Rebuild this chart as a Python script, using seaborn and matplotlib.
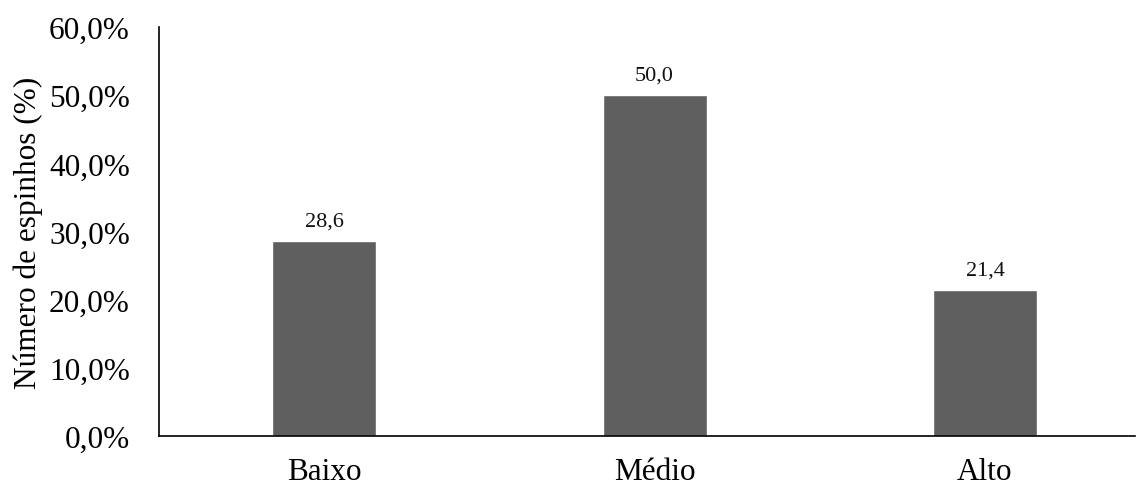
import matplotlib
matplotlib.use("Agg")
import matplotlib.pyplot as plt
import seaborn as sns
import pandas as pd
from matplotlib.ticker import FuncFormatter

categories = ["Baixo", "Médio", "Alto"]
values = [28.6, 50.0, 21.4]
labels = ["28,6", "50,0", "21,4"]

sns.set_theme(style="white")
plt.rcParams['font.family'] = ['Liberation Serif', 'DejaVu Serif']

df = pd.DataFrame({"cat": categories, "val": values})
fig = plt.figure(figsize=(11.39, 4.89), dpi=100)
ax = fig.add_axes([159 / 1139, 52 / 489, 976 / 1139, 409 / 489])
sns.barplot(data=df, x="cat", y="val", color="#5f5f5f", saturation=1, width=0.315, ax=ax)
for p, lab in zip(ax.patches, labels):
    ax.text(p.get_x() + p.get_width() / 2, p.get_height() + 1.6, lab,
            ha="center", va="bottom", fontsize=16, color="#111111")
ax.set_ylim(0, 60)
ax.set_xlim(-0.5, 2.454)
ax.set_yticks([0, 10, 20, 30, 40, 50, 60])
ax.yaxis.set_major_formatter(FuncFormatter(lambda v, p: f"{v:.1f}%".replace(".", ",")))
ax.tick_params(axis="y", labelsize=22.5, length=0, colors="black", pad=21)
ax.tick_params(axis="x", labelsize=22.5, length=0, colors="black", pad=15)
ax.set_xlabel("")
ax.set_ylabel("Número de espinhos (%)", fontsize=22.5, color="black", labelpad=4)
for s in ["top", "right"]:
    ax.spines[s].set_visible(False)
for s in ["left", "bottom"]:
    ax.spines[s].set_color("black")
    ax.spines[s].set_linewidth(1.2)
fig.savefig("out.png", dpi=100)
